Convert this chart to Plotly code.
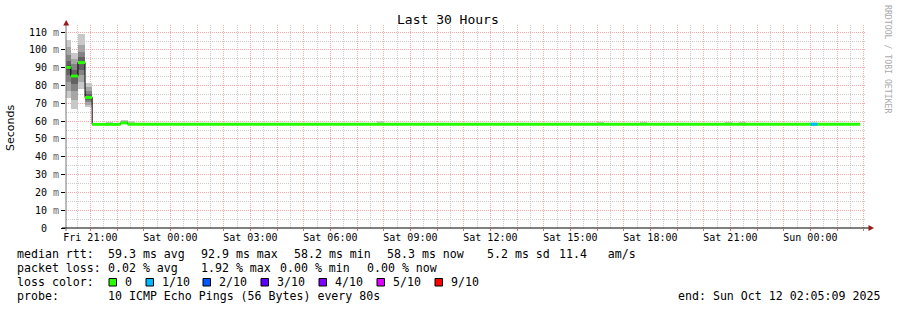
import plotly.graph_objects as go
import pandas as pd

# ---------------- data ----------------
chart_title = "Last 30 Hours"
range_start = "2025-10-10 20:05:09"
range_end = "2025-10-12 02:05:09"

# median RTT (ms) as a step series: value holds from each time until the next
median_times = ["2025-10-10 20:00", "2025-10-10 20:16", "2025-10-10 20:32",
                "2025-10-10 20:48", "2025-10-10 21:04", "2025-10-10 22:08",
                "2025-10-10 22:24", "2025-10-12 01:52"]
median_values = [90.2, 85.3, 92.9, 73.3, 58.2, 59.0, 58.3, 58.3]

# smoke: start of 16-minute bins and the 10 sorted ping times (ms) in each
smoke_times = ["2025-10-10 20:00", "2025-10-10 20:16", "2025-10-10 20:32",
               "2025-10-10 20:48", "2025-10-10 21:36", "2025-10-10 22:08",
               "2025-10-10 22:24", "2025-10-11 07:44", "2025-10-11 16:00",
               "2025-10-11 17:36", "2025-10-11 20:48", "2025-10-11 21:20"]
smoke_pings = [
    [73.0, 77.0, 82.0, 86.0, 89.0, 91.4, 94.0, 97.0, 101.5, 105.5],
    [66.8, 72.0, 77.0, 81.0, 84.5, 86.1, 89.0, 92.0, 95.0, 98.4],
    [78.0, 82.0, 86.0, 89.0, 92.2, 93.6, 96.0, 99.0, 103.0, 108.9],
    [67.7, 69.0, 70.5, 72.0, 73.0, 73.6, 75.0, 77.0, 79.0, 81.5],
    [58.1, 58.1, 58.2, 58.2, 58.2, 58.2, 58.3, 58.3, 58.6, 59.4],
    [58.2, 58.4, 58.6, 58.8, 58.9, 59.1, 59.3, 59.6, 60.0, 60.6],
    [58.1, 58.1, 58.2, 58.2, 58.3, 58.3, 58.4, 58.6, 59.2, 60.2],
    [58.1, 58.1, 58.2, 58.2, 58.2, 58.3, 58.3, 58.4, 58.9, 60.2],
    [58.1, 58.1, 58.2, 58.2, 58.2, 58.2, 58.3, 58.3, 58.6, 59.4],
    [58.1, 58.1, 58.2, 58.2, 58.2, 58.2, 58.3, 58.3, 58.6, 59.4],
    [58.1, 58.1, 58.2, 58.2, 58.2, 58.2, 58.3, 58.3, 58.6, 59.4],
    [58.1, 58.1, 58.2, 58.2, 58.2, 58.2, 58.3, 58.3, 58.6, 59.4],
]
bin_minutes = 16

# packet loss bins (count out of 10)
loss_times = ["2025-10-12 00:00"]
loss_counts = [1]

loss_levels = [0, 1, 2, 3, 4, 5, 9]
loss_labels = ["0", "1/10", "2/10", "3/10", "4/10", "5/10", "9/10"]
loss_colors = ["#26ff00", "#00b8ff", "#0059ff", "#5e00ff", "#7e00ff", "#dd00ff", "#ff0000"]

smoke_shades = ["#c8c8c8", "#a6a6a6", "#848484", "#626262", "#444444"]

y_ticks = [0, 10, 20, 30, 40, 50, 60, 70, 80, 90, 100, 110]
y_minor = [5, 15, 25, 35, 45, 55, 65, 75, 85, 95, 105]

stats_rtt = ["59.3 ms avg", "92.9 ms max", "58.2 ms min", "58.3 ms now", "5.2 ms sd", "11.4   am/s"]
stats_loss = ["0.02 % avg", "1.92 % max", "0.00 % min", "0.00 % now"]
probe_text = "10 ICMP Echo Pings (56 Bytes) every 80s"
end_text = "end: Sun Oct 12 02:05:09 2025"
side_text = "RRDTOOL / TOBI OETIKER"

# ---------------- layout helpers ----------------
L, R, T, B = 66, 31, 25, 82
W, H = 897, 310
PW, PH = W - L - R, H - T - B


def px(x):
    return (x - L) / PW


def py(y):
    return (T + PH - y) / PH


MONO = "DejaVu Sans Mono"
fig = go.Figure()

# smoke bands (outer -> inner)
bin_ms = bin_minutes * 60 * 1000
for i, shade in enumerate(smoke_shades):
    fig.add_trace(go.Bar(
        x=smoke_times,
        base=[p[i] for p in smoke_pings],
        y=[p[9 - i] - p[i] for p in smoke_pings],
        width=[bin_ms] * len(smoke_times), offset=0,
        marker=dict(color=shade, line=dict(width=0)), opacity=1,
        showlegend=False, hoverinfo="skip"))

# black step line of median
fig.add_trace(go.Scatter(x=median_times, y=median_values, mode="lines",
                         line=dict(color="black", width=1, shape="hv"),
                         showlegend=False, hoverinfo="skip"))

# coloured horizontal median segments
seg_x, seg_y = [], []
for i in range(len(median_times) - 1):
    seg_x += [median_times[i], median_times[i + 1], None]
    seg_y += [median_values[i], median_values[i], None]
fig.add_trace(go.Scatter(x=seg_x, y=seg_y, mode="lines",
                         line=dict(color=loss_colors[0], width=3),
                         showlegend=False, hoverinfo="skip"))

# loss-coloured segments (on the overlay axes that also carry the minor grid)
mt = pd.to_datetime(median_times)
for t, c in zip(loss_times, loss_counts):
    ts = pd.Timestamp(t)
    idx = max(k for k in range(len(mt)) if mt[k] <= ts)
    v = median_values[idx]
    te = ts + pd.Timedelta(minutes=bin_minutes)
    fig.add_trace(go.Scatter(x=[ts, te], y=[v, v], mode="lines", xaxis="x2", yaxis="y2",
                             line=dict(color=loss_colors[loss_levels.index(c)], width=3),
                             showlegend=False, hoverinfo="skip"))

# axes ticks
hours = pd.date_range("2025-10-10 21:00", "2025-10-12 02:00", freq="h")
half_hours = pd.date_range("2025-10-10 20:30", "2025-10-12 01:30", freq="h")
x_ticktext = [h.strftime("%a %H:%M") if h.hour % 3 == 0 else "" for h in hours]

grid_major = "#f4aaaa"
grid_minor = "#cccccc"

fig.update_layout(
    xaxis=dict(type="date", range=[range_start, range_end],
               tickmode="array", tickvals=hours, ticktext=x_ticktext,
               ticks="outside", ticklen=2, tickcolor="#e07070", tickwidth=1,
               showgrid=True, gridcolor=grid_major, griddash="1px,1px", gridwidth=1,
               showline=False, zeroline=False,
               tickfont=dict(family=MONO, size=10, color="black")),
    xaxis2=dict(type="date", range=[range_start, range_end], overlaying="x",
                tickmode="array", tickvals=half_hours, showticklabels=False, ticks="",
                showgrid=True, gridcolor=grid_minor, griddash="1px,1px", gridwidth=1,
                showline=False, zeroline=False),
    yaxis=dict(range=[0, 114], tickmode="array", tickvals=y_ticks,
               ticktext=["0\u00a0\u00a0" if v == 0 else f"{v} <span style='color:#666'>m</span>"
                         for v in y_ticks],
               ticks="outside", ticklen=4, tickcolor="black",
               showgrid=True, gridcolor=grid_major, griddash="1px,1px", gridwidth=1,
               showline=False, zeroline=False,
               tickfont=dict(family=MONO, size=10, color="black")),
    yaxis2=dict(range=[0, 114], overlaying="y",
                tickmode="array", tickvals=y_minor, showticklabels=False, ticks="",
                showgrid=True, gridcolor=grid_minor, griddash="1px,1px", gridwidth=1,
                showline=False, zeroline=False),
)
try:
    fig.update_xaxes(ticklabelstandoff=-2, selector=dict(overlaying=None))
except Exception:
    pass

shapes = []
# axis lines and arrows
shapes.append(dict(type="line", xref="paper", yref="paper", x0=px(66), x1=px(66),
                   y0=py(231), y1=py(24), line=dict(color="#777777", width=1), layer="above"))
shapes.append(dict(type="line", xref="paper", yref="paper", x0=px(62), x1=px(870),
                   y0=py(228), y1=py(228), line=dict(color="black", width=1), layer="above"))
shapes.append(dict(type="path", xref="paper", yref="paper",
                   path=f"M {px(63.2)} {py(25.5)} L {px(69.2)} {py(25.5)} L {px(66.2)} {py(20)} Z",
                   fillcolor="#9a1a1a", line=dict(width=0), layer="above"))
shapes.append(dict(type="path", xref="paper", yref="paper",
                   path=f"M {px(868.5)} {py(225)} L {px(868.5)} {py(231)} L {px(874)} {py(228)} Z",
                   fillcolor="#9a1a1a", line=dict(width=0), layer="above"))

annotations = []


def text(x, y, s, size=11.6, anchor="left", family=MONO, color="black", angle=0):
    annotations.append(dict(x=px(x), y=py(y), xref="paper", yref="paper", text=s,
                            showarrow=False, xanchor=anchor, yanchor="middle",
                            textangle=angle, borderpad=0,
                            font=dict(family=family, size=size, color=color)))


text(448, 20, chart_title, size=13, anchor="center")
text(11, 128, "Seconds", size=11, anchor="center", family="DejaVu Sans", angle=-90)
text(888, 59, side_text, size=8.2, anchor="center", color="#aaaaaa", angle=90)

# legend lines
y1, y2, y3, y4 = 254, 268, 282, 296
text(16, y1, "median rtt:")
for xx, s in zip([107, 200, 293, 386, 486, 558], stats_rtt):
    text(xx, y1, s)
text(16, y2, "packet loss:")
for xx, s in zip([107, 200, 279, 366], stats_loss):
    text(xx, y2, s)
text(16, y3, "loss color:")
box_x = [109, 146, 203, 261, 319, 377, 435]
for bx, col, lab in zip(box_x, loss_colors, loss_labels):
    shapes.append(dict(type="rect", xref="paper", yref="paper",
                       x0=px(bx), x1=px(bx + 7.5), y0=py(286), y1=py(278.5),
                       fillcolor=col, line=dict(color="black", width=1)))
    text(bx + 14.5, y3, lab)
text(16, y4, "probe:")
text(107, y4, probe_text)
text(881, y4, end_text, anchor="right")

fig.update_layout(width=W, height=H, autosize=False,
                  margin=dict(l=L, r=R, t=T, b=B, pad=0),
                  paper_bgcolor="white", plot_bgcolor="white",
                  barmode="overlay", bargap=0, showlegend=False,
                  shapes=shapes, annotations=annotations)

fig.write_html("out.html")
